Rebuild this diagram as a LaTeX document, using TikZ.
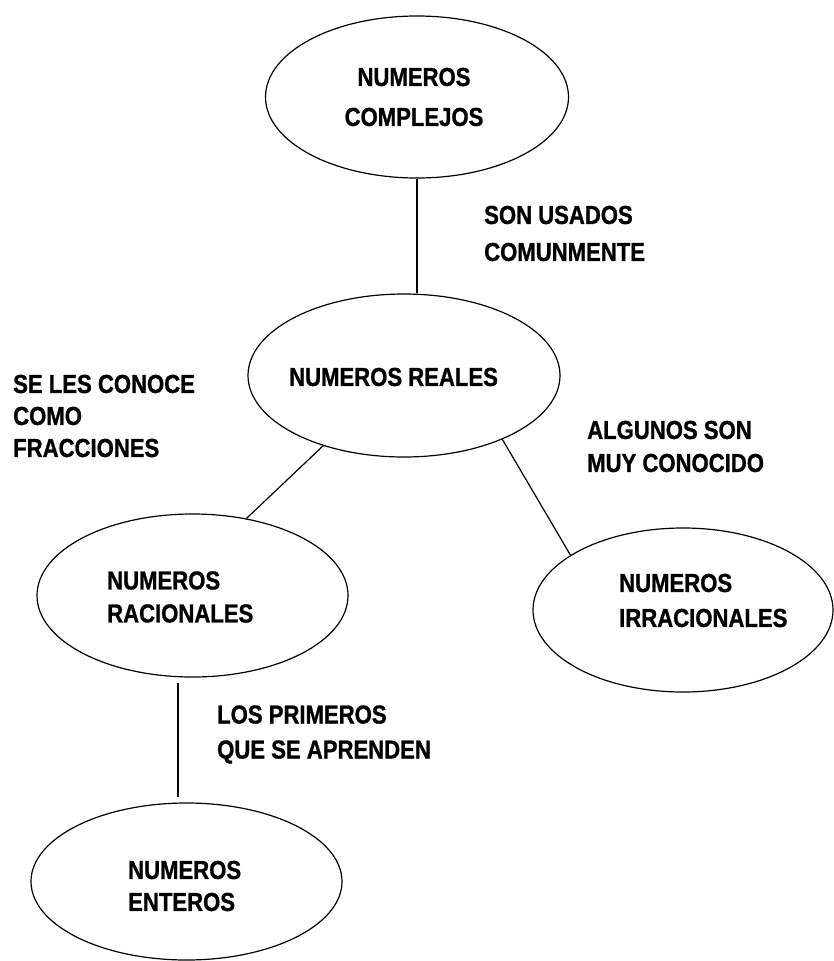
\documentclass[tikz,border=0pt]{standalone}
\usepackage{fontspec}
\newfontfamily\lblfont{Liberation Sans}[FakeStretch=0.85,BoldFeatures={FakeBold=1}]
\usetikzlibrary{shapes.geometric}
\begin{document}
\begin{tikzpicture}[x=1pt,y=-1pt,
  ell/.style={draw, ellipse, line width=1.2pt, inner sep=0pt},
  txt/.style={font=\lblfont\bfseries\fontsize{26}{#1}\selectfont, align=left, inner sep=0pt, anchor=west},
  txt/.default=33,
  conn/.style={line width=1.2pt}]
\fill[white] (0,0) rectangle (834,961);
\useasboundingbox (0,0) rectangle (834,961);

% ellipses
\node[ell, minimum width=303pt, minimum height=162pt] (comp) at (417,97) {};
\node[ell, minimum width=312pt, minimum height=163pt] (real) at (404,375.5) {};
\node[ell, minimum width=311pt, minimum height=163pt] (rac) at (192.5,595.5) {};
\node[ell, minimum width=300pt, minimum height=164pt] (irr) at (683,610) {};
\node[ell, minimum width=311pt, minimum height=157pt] (ent) at (186.5,881.5) {};

% texts inside ellipses
\node[txt=40, anchor=center, align=center] (comptxt) at (414,97) {NUMEROS\\COMPLEJOS};
\node[txt] (realtxt) at (289,377) {NUMEROS REALES};
\node[txt=33] (ractxt) at (107,597) {NUMEROS\\RACIONALES};
\node[txt=35] (irrtxt) at (619,600.5) {NUMEROS\\IRRACIONALES};
\node[txt=32] (enttxt) at (128,886) {NUMEROS\\ENTEROS};

% connector labels
\node[txt=37] (l1) at (484,233.5) {SON USADOS\\COMUNMENTE};
\node[txt=32] (l2) at (13,416) {SE LES CONOCE\\COMO\\FRACCIONES};
\node[txt=33] (l3) at (587,446.5) {ALGUNOS SON\\MUY CONOCIDO};
\node[txt=35] (l4) at (217,734.5) {LOS PRIMEROS\\QUE SE APRENDEN};

% connectors
\draw[conn] (comp.south) -- (comp.south |- real.north);
\draw[conn] (real.221) -- (rac.55);
\draw[conn] (real.327) -- (irr.154);
\coordinate (r1) at ([xshift=-14.5pt,yshift=-5pt]rac.south);
\coordinate (e1) at ([yshift=5pt]ent.north);
\draw[conn] (r1) -- (r1 |- e1);
\end{tikzpicture}
\end{document}
